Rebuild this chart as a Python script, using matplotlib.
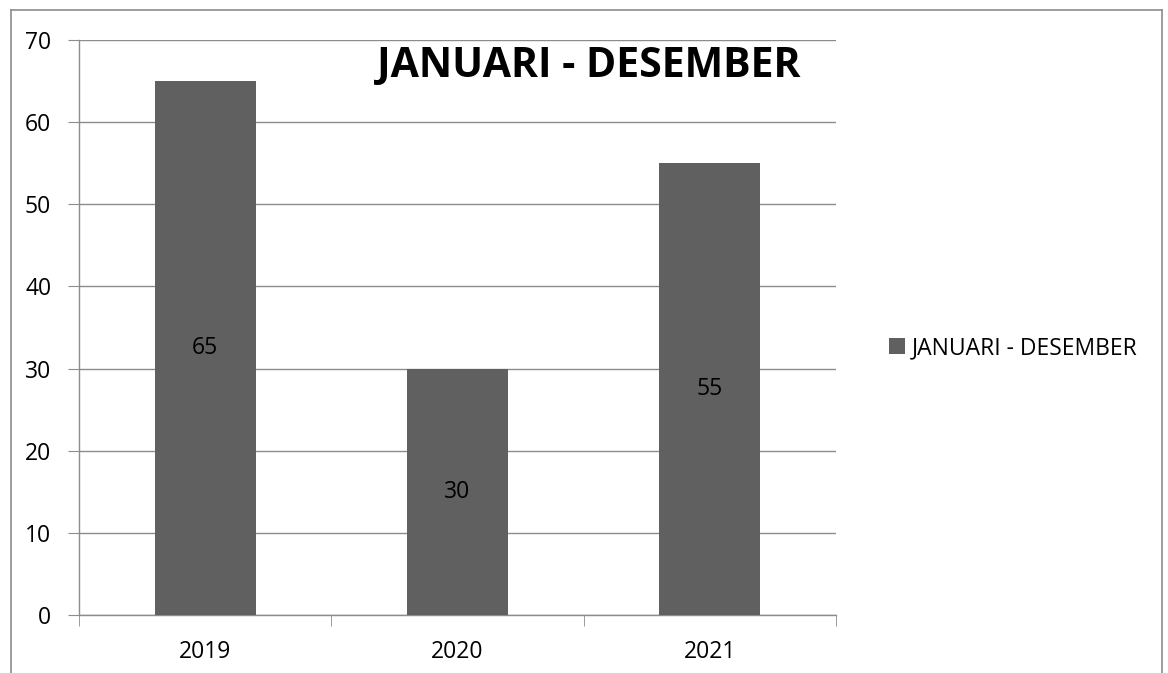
import matplotlib
matplotlib.use("Agg")
import matplotlib.pyplot as plt
from matplotlib.lines import Line2D
import numpy as np

categories = ["2019", "2020", "2021"]
values = [65, 30, 55]
series_name = "JANUARI - DESEMBER"
title = "JANUARI - DESEMBER"

plt.rcParams['font.family'] = ['Open Sans', 'DejaVu Sans']

W, H = 1168, 673
fig = plt.figure(figsize=(W / 100, H / 100), dpi=100)
ax = fig.add_axes([79 / W, 1 - 615 / H, (836 - 79) / W, (615 - 40) / H])

bar_color = "#606060"
grid_color = "#8c8c8c"
fs = 16.5
x = np.arange(len(categories))
bars = ax.bar(x, values, width=0.4, color=bar_color, label=series_name, zorder=3)
for xi, v in zip(x, values):
    ax.text(xi, v / 2, str(v), ha="center", va="center", fontsize=fs, color="black", zorder=4)

ax.set_xlim(-0.5, len(categories) - 0.5)
ax.set_ylim(0, 70)
ax.set_yticks(range(0, 71, 10))
ax.yaxis.grid(True, color=grid_color, linewidth=1, zorder=0)
ax.set_axisbelow(True)
ax.set_xticks(x)
ax.set_xticklabels(categories, fontsize=fs)
ax.set_xticks(np.arange(-0.5, len(categories), 1), minor=True)
ax.tick_params(axis="x", which="major", length=0, pad=18)
ax.tick_params(axis="x", which="minor", length=8, color=grid_color, direction="out")
ax.tick_params(axis="y", length=8, color=grid_color, direction="out", labelsize=fs, pad=12)
for s in ["top", "right"]:
    ax.spines[s].set_visible(False)
for s in ["left", "bottom"]:
    ax.spines[s].set_color(grid_color)
    ax.spines[s].set_linewidth(1)

ax.text((800 - 79) / (836 - 79), 1 - (46 - 40) / (615 - 40), title, transform=ax.transAxes,
        ha="right", va="top", fontsize=29.5, fontweight="bold", color="black")

leg = fig.legend(handles=[bars], labels=[series_name], loc="center left",
                 bbox_to_anchor=(868 / W, 1 - 348 / H), frameon=False, fontsize=fs,
                 handlelength=0.7, handleheight=0.7, handletextpad=0.3)

# outer chart border
bc = "#8c8c8c"
fig.add_artist(Line2D([11 / W, 11 / W], [0, 1 - 10 / H], color=bc, linewidth=1.2, transform=fig.transFigure))
fig.add_artist(Line2D([11 / W, 1162 / W], [1 - 10 / H, 1 - 10 / H], color=bc, linewidth=1.2, transform=fig.transFigure))
fig.add_artist(Line2D([1162 / W, 1162 / W], [0, 1 - 10 / H], color=bc, linewidth=1.2, transform=fig.transFigure))

fig.savefig("out.png", dpi=100, facecolor="white")
